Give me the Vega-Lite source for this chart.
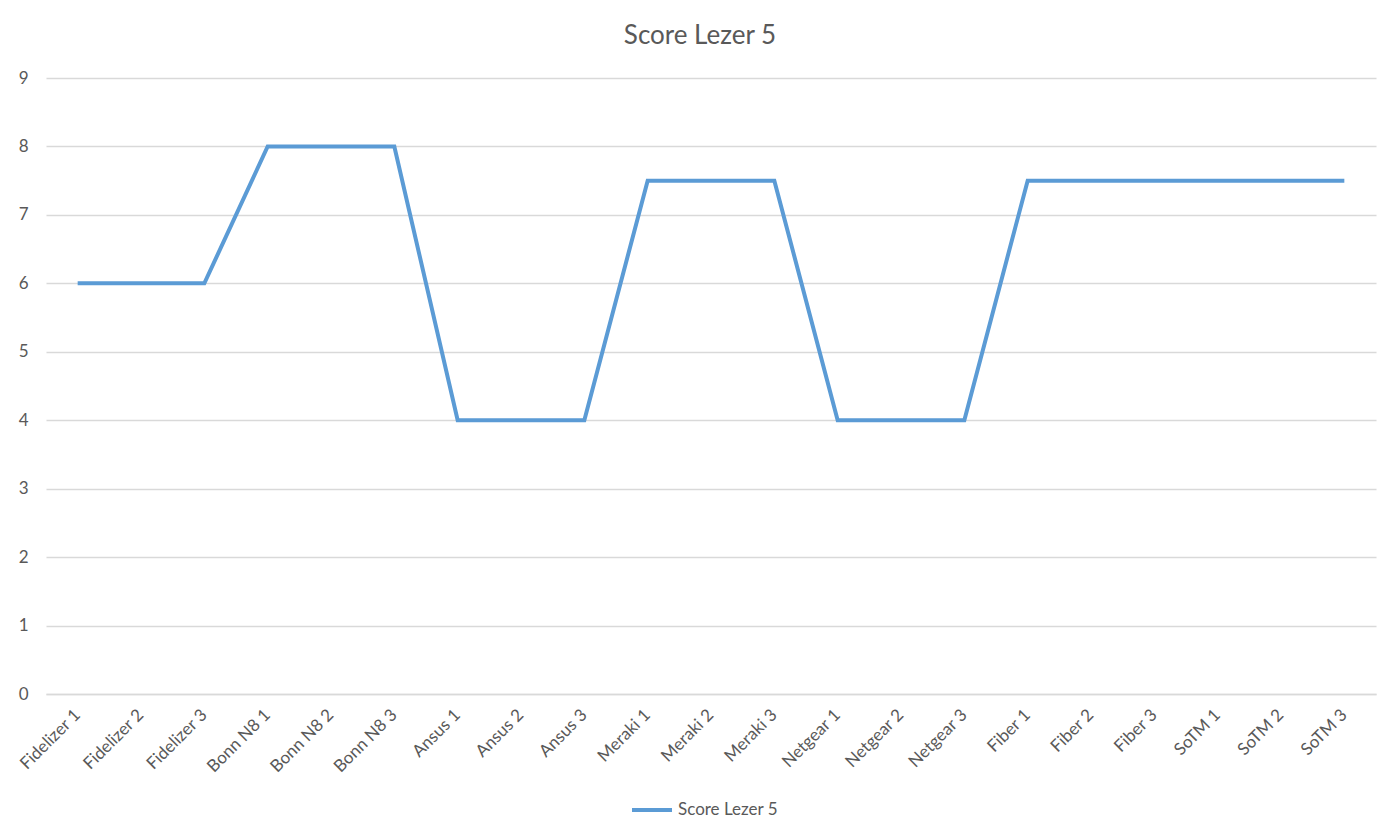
{
  "$schema": "https://vega.github.io/schema/vega-lite/v6.json",
  "autosize": "none",
  "padding": {"left": 46, "top": 78, "right": 24, "bottom": 146},
  "width": 1330,
  "height": 616,
  "background": "white",
  "title": {"text": "Score Lezer 5", "fontSize": 26, "font": "Lato", "fontWeight": "normal", "color": "#595959", "offset": 20, "dx": -11, "anchor": "middle"},
  "data": {"values": [
    {"name": "Fidelizer 1", "score": 6},
    {"name": "Fidelizer 2", "score": 6},
    {"name": "Fidelizer 3", "score": 6},
    {"name": "Bonn N8 1", "score": 8},
    {"name": "Bonn N8 2", "score": 8},
    {"name": "Bonn N8 3", "score": 8},
    {"name": "Ansus 1", "score": 4},
    {"name": "Ansus 2", "score": 4},
    {"name": "Ansus 3", "score": 4},
    {"name": "Meraki 1", "score": 7.5},
    {"name": "Meraki 2", "score": 7.5},
    {"name": "Meraki 3", "score": 7.5},
    {"name": "Netgear 1", "score": 4},
    {"name": "Netgear 2", "score": 4},
    {"name": "Netgear 3", "score": 4},
    {"name": "Fiber 1", "score": 7.5},
    {"name": "Fiber 2", "score": 7.5},
    {"name": "Fiber 3", "score": 7.5},
    {"name": "SoTM 1", "score": 7.5},
    {"name": "SoTM 2", "score": 7.5},
    {"name": "SoTM 3", "score": 7.5}
  ]},
  "mark": {"type": "line", "strokeWidth": 4, "strokeJoin": "miter", "strokeCap": "butt"},
  "encoding": {
    "x": {"field": "name", "type": "nominal", "sort": null, "scale": {"type": "band", "paddingInner": 0, "paddingOuter": 0},
      "axis": {"title": null, "labelAngle": -45, "labelAlign": "right", "labelBaseline": "middle", "labelPadding": 18, "ticks": false, "domain": true, "domainColor": "#d9d9d9", "domainWidth": 1.5, "grid": false, "labelFont": "Lato", "labelFontSize": 17, "labelColor": "#595959"}},
    "y": {"field": "score", "type": "quantitative", "scale": {"domain": [0, 9], "nice": false},
      "axis": {"title": null, "values": [0,1,2,3,4,5,6,7,8,9], "labelOverlap": false, "ticks": false, "domain": false, "gridColor": "#d9d9d9", "gridWidth": 1.5, "labelPadding": 18, "labelFont": "Lato", "labelFontSize": 17, "labelColor": "#595959"}},
    "color": {"datum": "Score Lezer 5", "type": "nominal", "scale": {"range": ["#5B9BD5"]},
      "legend": {"title": null, "orient": "none", "legendX": 584, "legendY": 710, "symbolType": "stroke", "symbolSize": 1600, "symbolStrokeWidth": 4, "labelFont": "Lato", "labelFontSize": 17, "labelColor": "#595959", "labelOffset": 4}}
  },
  "config": {"view": {"stroke": null}}
}
